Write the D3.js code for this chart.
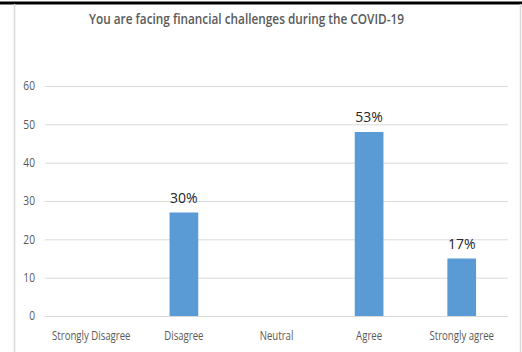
<!DOCTYPE html>
<html>
<head>
<meta charset="utf-8">
<script src="https://cdn.jsdelivr.net/npm/d3@7/dist/d3.min.js"></script>
<style>
  html, body { margin: 0; padding: 0; background: #fff; }
  svg { display: block; }
  .lbl { font-family: "Open Sans", sans-serif; }
</style>
</head>
<body>
<svg id="chart" width="522" height="352"></svg>
<script>
// Survey responses (counts) for each answer
const categories = ["Strongly Disagree", "Disagree", "Neutral", "Agree", "Strongly agree"];
const responses = [0, 27, 0, 48, 15];
const yTicks = [0, 10, 20, 30, 40, 50, 60];
const title = "You are facing financial challenges during the COVID-19";

const total = d3.sum(responses);
const pctFmt = d3.format(".0%");

const svg = d3.select("#chart");
const W = 522, H = 352;
const margin = { top: 86, right: 14, bottom: 36, left: 45 };

// squeeze a text node horizontally to give it a condensed look
function condense(sel, k) {
  sel.each(function () {
    const len = this.getComputedTextLength();
    d3.select(this).attr("textLength", len * k).attr("lengthAdjust", "spacingAndGlyphs");
  });
}

// frame: heavy top rule, light side rules
svg.append("rect").attr("x", 0).attr("y", 1.5).attr("width", W).attr("height", 3).attr("fill", "#000");
svg.append("line").attr("x1", 14.5).attr("x2", 14.5).attr("y1", 4).attr("y2", H)
  .attr("stroke", "#d9d9d9").attr("stroke-width", 1.5);
svg.append("line").attr("x1", 520.5).attr("x2", 520.5).attr("y1", 4).attr("y2", H)
  .attr("stroke", "#d9d9d9").attr("stroke-width", 1.5);

const x = d3.scaleBand()
  .domain(categories)
  .range([margin.left, W - margin.right])
  .paddingInner(0.69)
  .paddingOuter(0.345);

const y = d3.scaleLinear()
  .domain([0, 60])
  .range([316, 86]);

// horizontal gridlines and value axis labels
const yAxis = d3.axisLeft(y).tickValues(yTicks)
  .tickSize(-(W - margin.right - margin.left)).tickPadding(10);
const gy = svg.append("g").attr("transform", `translate(${margin.left},0)`).call(yAxis);
gy.select(".domain").remove();
gy.selectAll(".tick line").attr("stroke", "#d9d9d9").attr("stroke-width", 1);
gy.selectAll(".tick text")
  .attr("class", "lbl")
  .attr("fill", "#595959")
  .attr("font-size", 12)
  .call(condense, 0.85);

// category axis labels
const xAxis = d3.axisBottom(x).tickSize(0).tickPadding(15);
const gx = svg.append("g").attr("transform", `translate(0,${y(0)})`).call(xAxis);
gx.select(".domain").remove();
gx.selectAll(".tick text")
  .attr("class", "lbl")
  .attr("fill", "#595959")
  .attr("font-size", 12)
  .call(condense, 0.8);

// bars
const data = categories.map((c, i) => ({ c, v: responses[i] }));
svg.append("g").selectAll("rect")
  .data(data.filter(d => d.v > 0))
  .join("rect")
  .attr("x", d => x(d.c))
  .attr("y", d => y(d.v))
  .attr("width", x.bandwidth())
  .attr("height", d => y(0) - y(d.v))
  .attr("fill", "#5b9bd5");

// share-of-total labels above bars
svg.append("g").selectAll("text")
  .data(data.filter(d => d.v > 0))
  .join("text")
  .attr("x", d => x(d.c) + x.bandwidth() / 2)
  .attr("y", d => y(d.v) - 10)
  .attr("text-anchor", "middle")
  .attr("font-family", "'Open Sans', sans-serif")
  .attr("font-size", 14)
  .attr("fill", "#262626")
  .text(d => pctFmt(d.v / total));

// title
svg.append("text")
  .attr("class", "lbl")
  .attr("x", 246.5)
  .attr("y", 24)
  .attr("text-anchor", "middle")
  .attr("font-size", 15)
  .attr("font-weight", 600)
  .attr("fill", "#595959")
  .text(title)
  .attr("textLength", 315)
  .attr("lengthAdjust", "spacingAndGlyphs");
</script>
</body>
</html>
